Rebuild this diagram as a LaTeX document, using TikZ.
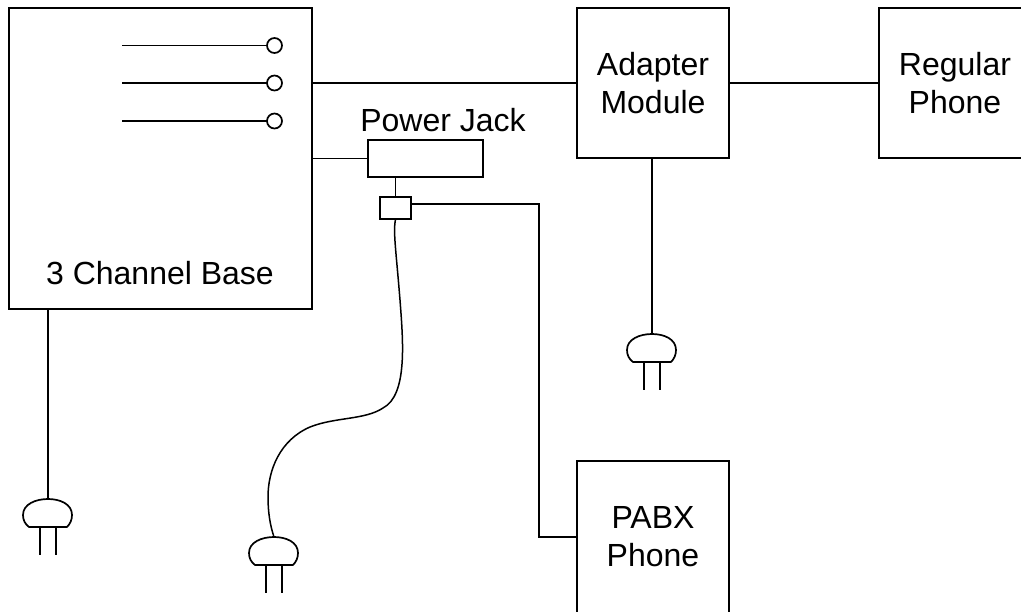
\documentclass[tikz,border=0pt]{standalone}
\usepackage{fontspec}
\setmainfont{Liberation Sans}
\tikzset{
  wire/.style={line width=1.7pt, line cap=butt},
  thinwire/.style={line width=1.5pt},
  box/.style={draw, line width=1.8pt, inner sep=0pt, outer sep=0pt, align=center,
     font=\fontsize{32}{38}\selectfont},
  label/.style={inner sep=0pt, outer sep=0pt, font=\fontsize{32}{38}\selectfont},
  jack/.style={draw, line width=1.7pt, circle, minimum size=15pt, inner sep=0pt, outer sep=0pt},
  plug/.pic={
    \draw[line width=1.7pt, line join=round]
      (-19,28) .. controls (-23,25) and (-25,21) .. (-25,16)
      .. controls (-25,5) and (-12,0) .. (0,0)
      .. controls (12,0) and (24,5) .. (24,16)
      .. controls (24,21) and (22,25) .. (19,28) -- cycle;
    \draw[line width=1.7pt] (-8,28) -- (-8,56) (8,28) -- (8,56);
  }
}
\begin{document}
\begin{tikzpicture}[x=1pt,y=-1pt]
\clip (0,0) rectangle (1021,611);
\node[box, minimum width=303pt, minimum height=301pt] (base) at (160.5,158.5) {};
\node[label] (baselabel) at (160,273) {3 Channel Base};
\node[box, minimum width=152pt, minimum height=150pt] (adapter) at (653,83) {Adapter\\Module};
\node[box, minimum width=152pt, minimum height=150pt] (regular) at (955,83) {Regular\\Phone};
\node[box, minimum width=152pt, minimum height=152pt] (pabx) at (653,537) {PABX\\Phone};
\node[box, minimum width=115pt, minimum height=37pt] (power) at (425.5,158.5) {};
\node[label] (powerlabel) at (443,120) {Power Jack};
\node[box, minimum width=31pt, minimum height=22pt] (split) at (395.5,208) {};
% output jacks
\node[jack] (j1) at (274.5,45.5) {};
\node[jack] (j2) at (274.5,83) {};
\node[jack] (j3) at (274.5,121) {};
\coordinate (s1) at (122,45.5);
\coordinate (s2) at (122,83);
\coordinate (s3) at (122,121);
\draw[wire] (s1) -- (j1) (s2) -- (j2) (s3) -- (j3);
% links
\draw[wire] (base.east |- adapter.west) -- (adapter.west);
\draw[wire] (adapter.east) -- (regular.west);
\draw[wire] (base.east) -- (power.west);
\draw[wire] (split.north |- power.south) -- (split.north);
\coordinate (bend) at (539,204);
\draw[wire] (split.east |- bend) -- (bend) -- (bend |- pabx.west) -- (pabx.west);
% plugs
\coordinate (p1) at (48,499);
\coordinate (p2) at (274,537);
\coordinate (p3) at (652,334);
\pic at (p1) {plug};
\pic at (p2) {plug};
\pic at (p3) {plug};
\draw[wire] (p1 |- base.south) -- (p1);
\draw[wire] (p3 |- adapter.south) -- (p3);
\draw[thinwire] (split.south) .. controls (393,232) and (396,250) .. (400,300)
  .. controls (403,340) and (408,395) .. (383,408)
  .. controls (365,420) and (335,417) .. (310,427)
  .. controls (280,440) and (268,470) .. (268,497)
  .. controls (268,512) and (270,525) .. (p2);
\end{tikzpicture}
\end{document}
